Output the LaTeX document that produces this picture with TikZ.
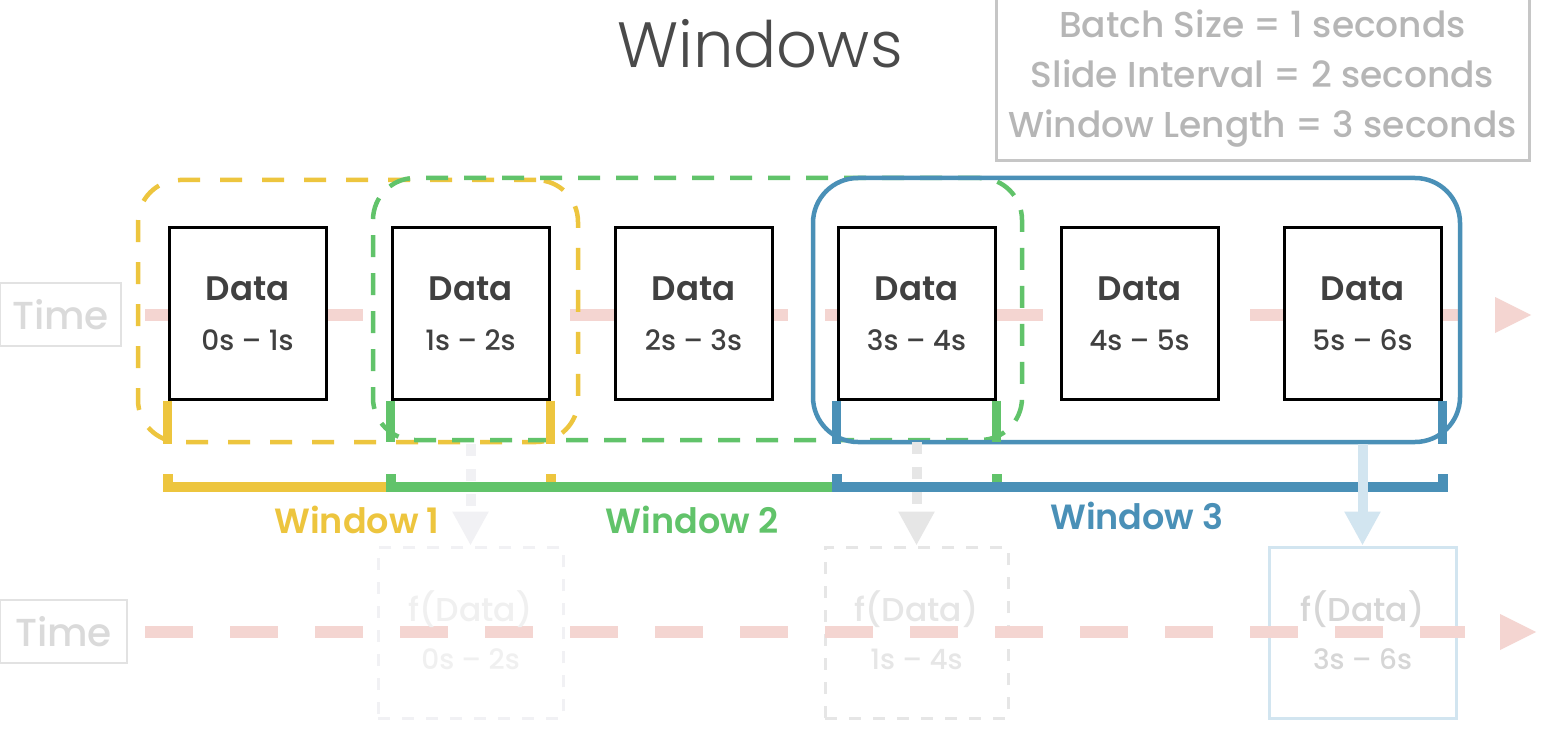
\documentclass[tikz,border=0pt]{standalone}
\usepackage{fontspec}
\setmainfont{Poppins}
\newfontfamily\poplight{Poppins Light}
\newfontfamily\popmed{Poppins Medium}
\newfontfamily\popsemi{Poppins SemiBold}
\usetikzlibrary{arrows.meta}
\definecolor{wyel}{HTML}{EDC53E}
\definecolor{wgrn}{HTML}{61C36A}
\definecolor{wblu}{HTML}{4A90B7}
\definecolor{pinkax}{HTML}{F4D5D1}
\definecolor{titlegray}{HTML}{4A4A4A}
\definecolor{infoborder}{HTML}{C6C6C6}
\definecolor{infotext}{HTML}{B6B6B6}
\definecolor{timeborder}{HTML}{E2E2E2}
\definecolor{timetext}{HTML}{DADADA}
\definecolor{datatext}{HTML}{404040}
\definecolor{fadeA}{HTML}{F1F1F4}
\definecolor{fadeB}{HTML}{E6E6E6}
\definecolor{fadeC}{HTML}{D2E5F0}
\definecolor{ftextA}{HTML}{F0F0F0}
\definecolor{ftextB}{HTML}{E6E6E6}
\definecolor{ftextC}{HTML}{D6D6D6}
\tikzset{
  databox/.style={draw=black, line width=3pt, fill=white, minimum width=157pt, minimum height=172pt, inner sep=0pt},
  datalbl/.style={text=datatext, font=\popsemi\fontsize{34}{38}\selectfont, inner sep=0pt},
  rangelbl/.style={text=datatext, font=\popmed\fontsize{28}{32}\selectfont, inner sep=0pt},
  winbox/.style={line width=4.5pt, rounded corners=42pt, inner sep=0pt},
  bracket/.style={line width=10pt, line join=miter, line cap=butt},
  riser/.style={line width=9pt, line cap=butt},
  winlbl/.style={font=\popsemi\fontsize{35}{40}\selectfont, inner sep=0pt},
  timebox/.style={draw=timeborder, line width=1.5pt, text=timetext, font=\popmed\fontsize{39}{44}\selectfont, inner sep=0pt},
  axis/.style={pinkax, line width=12pt, dash pattern=on 48pt off 37pt},
  fbox/.style={line width=3pt, inner sep=0pt, minimum height=171pt},
  flbl/.style={font=\popmed\fontsize{33}{36}\selectfont, inner sep=0pt},
  frng/.style={font=\popmed\fontsize{28}{32}\selectfont, inner sep=0pt},
  farrow/.style={line width=10pt, -{Triangle[width=34pt,length=34pt]}}
}
\begin{document}
\begin{tikzpicture}[x=1pt,y=-1pt]
\useasboundingbox[fill=white] (0,0) rectangle (1546,730);

% title and info box
\node[text=titlegray, font=\poplight\fontsize{64}{68}\selectfont, inner sep=0pt] (title) at (760,44) {Windows};
\node[draw=infoborder, line width=3pt, minimum width=533pt, minimum height=182pt, inner sep=0pt,
      text=infotext, align=center, font=\popmed\fontsize{36}{50}\selectfont] (info) at (1262.5,70) {};
\node[text=infotext, align=center, font=\popmed\fontsize{36}{50}\selectfont, inner sep=0pt] (infotxt) at (1262.5,79)
      {Batch Size = 1 seconds\\Slide Interval = 2 seconds\\Window Length = 3 seconds};

% time labels
\node[timebox, minimum width=121pt, minimum height=63pt] (t1) at (60.5,314.5) {Time};
\node[timebox, minimum width=127pt, minimum height=63pt] (t2) at (63.5,631.5) {Time};

% top axis
\coordinate (a1s) at (145,315);
\coordinate (a1e) at (1462,315);
\draw[axis] (a1s) -- (a1e);
\fill[pinkax] (1495,297) -- (1531,315) -- (1495,333) -- cycle;

% window boxes
\node[winbox, draw=wyel, dash pattern=on 22pt off 20pt, minimum width=440pt, minimum height=262pt] (w1) at (358,311) {};
\node[winbox, draw=wgrn, dash pattern=on 22pt off 16pt, minimum width=649pt, minimum height=262pt] (w2) at (697.5,309) {};
\node[winbox, draw=wblu, minimum width=647pt, minimum height=264pt, rounded corners=45pt] (w3) at (1136.5,310) {};

% data boxes
\foreach \i/\x/\r in {1/247.5/0s – 1s, 2/470.5/1s – 2s, 3/693.5/2s – 3s, 4/916.5/3s – 4s, 5/1139.5/4s – 5s, 6/1362.5/5s – 6s}{
  \node[databox] (d\i) at (\x,313) {};
  \node[datalbl] (dl\i) at ([yshift=24pt]d\i.center) {Data};
  \node[rangelbl] (dr\i) at ([yshift=-27pt]d\i.center) {\r};
}

% risers from data boxes to window bottoms
\draw[riser, wyel] (d1.south west) -- (d1.south west |- w1.south);
\draw[riser, wyel] (d2.south east) -- (d2.south east |- w1.south);
\draw[riser, wgrn] (d2.south west) -- (d2.south west |- w2.south);
\draw[riser, wgrn] (d4.south east) -- (d4.south east |- w2.south);
\draw[riser, wblu] (d4.south west) -- (d4.south west |- w3.south);
\draw[riser, wblu] (d6.south east) -- (d6.south east |- w3.south);

% brackets
\coordinate (bt) at (0,474);
\coordinate (bb) at (0,487);
\draw[bracket, wyel] (d1.south west |- bt) -- (d1.south west |- bb) -- (d2.south east |- bb) -- (d2.south east |- bt);
\draw[bracket, wgrn] (d2.south west |- bt) -- (d2.south west |- bb) -- (d4.south east |- bb) -- (d4.south east |- bt);
\draw[bracket, wblu] (d4.south west |- bt) -- (d4.south west |- bb) -- (d6.south east |- bb) -- (d6.south east |- bt);

\node[winlbl, text=wyel] (wl1) at (357,520) {Window 1};
\node[winlbl, text=wgrn] (wl2) at (692,520) {Window 2};
\node[winlbl, text=wblu] (wl3) at (1137,516) {Window 3};

% result boxes
\node[fbox, draw=fadeA, dash pattern=on 12pt off 12pt, minimum width=185pt] (f1) at (470.5,632.5) {};
\node[fbox, draw=fadeB, dash pattern=on 12pt off 12pt, minimum width=183pt] (f2) at (916.5,632.5) {};
\node[fbox, draw=fadeC, minimum width=187pt] (f3) at (1362.5,632.5) {};

% bottom axis
\coordinate (a2s) at (145,632);
\coordinate (a2e) at (1465,632);
\draw[axis] (a2s) -- (a2e);
\fill[pinkax] (1500,614) -- (1536,632) -- (1500,650) -- cycle;

\node[flbl, text=ftextA] (fl1) at ([yshift=23pt]f1.center) {f(Data)};
\node[frng, text=ftextA] (fr1) at ([yshift=-27pt]f1.center) {0s – 2s};
\node[flbl, text=ftextB] (fl2) at ([yshift=23pt]f2.center) {f(Data)};
\node[frng, text=ftextB] (fr2) at ([yshift=-27pt]f2.center) {1s – 4s};
\node[flbl, text=ftextC] (fl3) at ([yshift=23pt]f3.center) {f(Data)};
\node[frng, text=ftextC] (fr3) at ([yshift=-27pt]f3.center) {3s – 6s};

% arrows from windows to results
\draw[farrow, fadeA, dash pattern=on 12pt off 13pt] (w1.south -| f1.north) -- (f1.north);
\draw[farrow, fadeB, dash pattern=on 12pt off 13pt] (w2.south -| f2.north) -- (f2.north);
\draw[farrow, fadeC] (w3.south -| f3.north) -- (f3.north);
\end{tikzpicture}
\end{document}
